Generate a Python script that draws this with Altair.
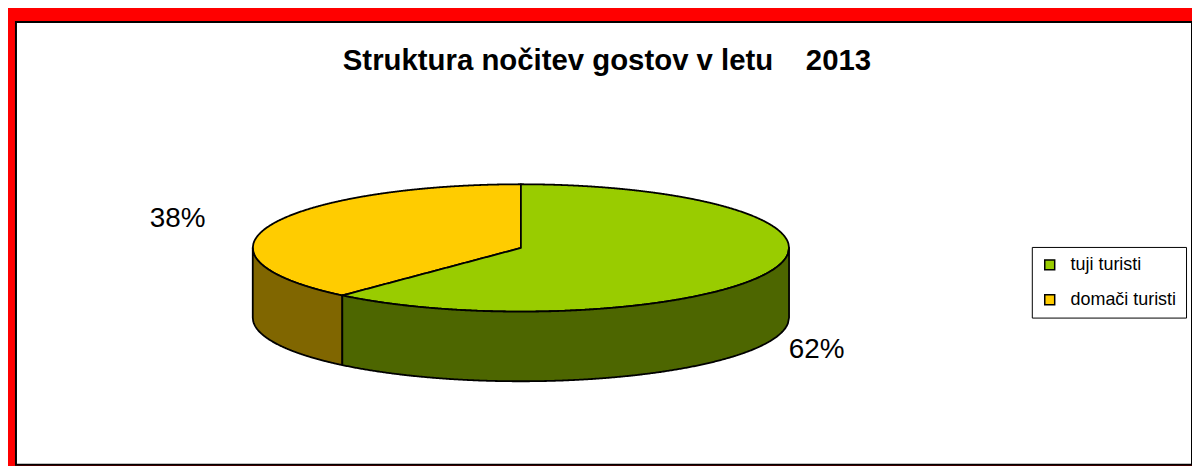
import altair as alt
import numpy as np
import pandas as pd

# ---- data ----
categories = ["tuji turisti", "domači turisti"]
shares = [61.6, 38.4]           # per cent of overnight stays
top_colors = ["#99CC00", "#FFCC00"]
side_colors = ["#4D6600", "#806600"]
title_text = "Struktura nočitev gostov v letu\u00a0\u00a0\u00a0\u00a02013"

# ---- 3D pie geometry (pixel-like units shared by the x/y scales) ----
cx, cy, rx, ry, depth = 523.5, 248.0, 269.5, 64.0, 70.0
total = sum(shares)
theta_split = 2 * np.pi * shares[0] / total        # clockwise from 12 o'clock
xD = cx + rx * np.sin(theta_split)
yD = cy - ry * np.cos(theta_split)


def half(x):
    return ry * np.sqrt(np.clip(1 - ((x - cx) / rx) ** 2, 0, None))


def chord(x):
    return yD + (x - xD) * (cy - yD) / (cx - xD)


rows = []
N = 400
# yellow top face (second category)
for x in np.linspace(cx - rx, cx, N):
    up = cy - half(x)
    lo = cy + half(x) if x <= xD else chord(x)
    rows.append({"key": categories[1], "x": x, "y": up, "y2": lo})
# green top face (first category)
xs = np.concatenate([np.linspace(xD, cx, N // 2), np.linspace(cx + 0.01, cx + rx, N)])
for x in xs:
    up = chord(x) if x <= cx else cy - half(x)
    rows.append({"key": categories[0], "x": x, "y": up, "y2": cy + half(x)})
# front walls
for x in np.linspace(cx - rx, xD, N // 2):
    rows.append({"key": categories[1] + " side", "x": x, "y": cy + half(x), "y2": cy + half(x) + depth})
for x in np.linspace(xD, cx + rx, N):
    rows.append({"key": categories[0] + " side", "x": x, "y": cy + half(x), "y2": cy + half(x) + depth})
pie_df = pd.DataFrame(rows)

# percentage labels positioned from each slice's mid-angle
label_k = [1.18, 1.37]
lab_rows = []
start = 0.0
for i, (cat, s) in enumerate(zip(categories, shares)):
    frac = s / total
    mid = 2 * np.pi * (start + frac / 2) if i == 0 else -2 * np.pi * frac / 2
    start += frac
    lx = cx + rx * label_k[i] * np.sin(mid)
    ly = cy - ry * label_k[i] * np.cos(mid) + 2
    if np.cos(mid) < 0:
        ly += depth + 4
    lab_rows.append({"x": lx, "y": ly, "label": f"{round(s)}%"})
lab_df = pd.DataFrame(lab_rows)

FONT = "Liberation Sans, Arial, sans-serif"
W, H = 1182, 445
xscale = alt.Scale(domain=[16, 16 + W], nice=False, zero=False)
yscale = alt.Scale(domain=[21, 21 + H], nice=False, zero=False, reverse=True)

color_scale = alt.Scale(
    domain=categories + [c + " side" for c in categories],
    range=top_colors + side_colors,
)

pie = alt.Chart(pie_df).mark_area(
    stroke="black", strokeWidth=1.8, opacity=1, strokeJoin="round"
).encode(
    x=alt.X("x:Q", scale=xscale, axis=None),
    y=alt.Y("y:Q", scale=yscale, axis=None),
    y2="y2:Q",
    color=alt.Color(
        "key:N",
        scale=color_scale,
        legend=alt.Legend(
            values=categories,
            title=None,
            orient="none",
            legendX=1021,
            legendY=226,
            strokeColor="black",
            fillColor="white",
            padding=9,
            symbolType="square",
            symbolSize=100,
            symbolStrokeColor="black",
            symbolStrokeWidth=1.5,
            symbolOpacity=1,
            labelFont=FONT,
            labelFontSize=18,
            labelColor="black",
            labelOffset=12,
            rowPadding=17,
            labelExpr="datum.label + '\u00a0\u00a0\u00a0'",
        ),
    ),
)

labels = alt.Chart(lab_df).mark_text(
    font=FONT, fontSize=28, color="black", align="center", baseline="middle"
).encode(
    x=alt.X("x:Q", scale=xscale, axis=None),
    y=alt.Y("y:Q", scale=yscale, axis=None),
    text="label:N",
)

title = alt.Chart(pd.DataFrame({"t": [title_text]})).mark_text(
    font=FONT, fontSize=29.5, fontWeight="bold", color="black", align="center", baseline="alphabetic"
).encode(
    x=alt.value(594),
    y=alt.value(48),
    text="t:N",
)

chart = alt.layer(pie, labels, title).properties(
    width=W,
    height=H,
    padding={"left": 8, "top": 13, "right": 0, "bottom": 0},
    autosize=alt.AutoSizeParams(type="none"),
    background="#FF0000",
).configure_view(fill="white", stroke="black", strokeWidth=2)

chart.save("out.html", embed_options={"renderer": "svg", "actions": False})
